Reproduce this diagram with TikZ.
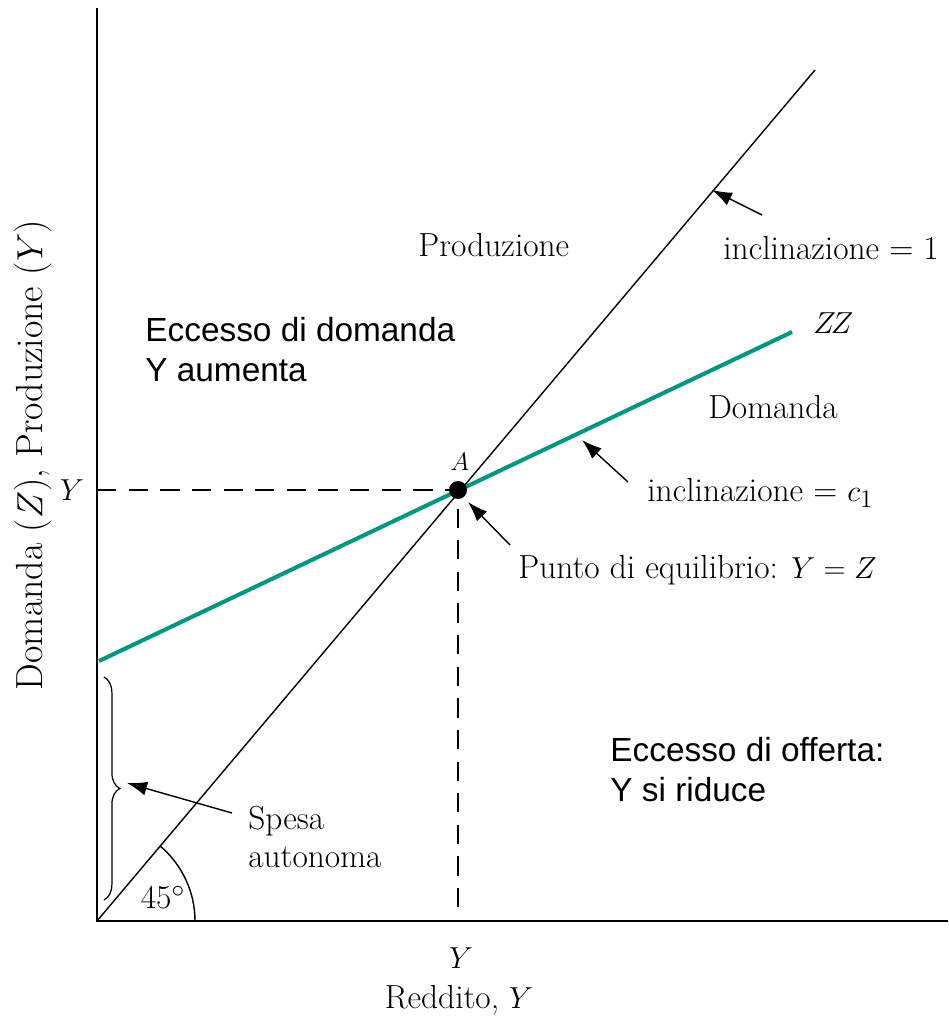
\documentclass[tikz,border=0pt]{standalone}
\usepackage{amsmath}
\usepackage{fontspec}
\newfontfamily\notefont{Liberation Sans}
\usetikzlibrary{arrows.meta,decorations.pathreplacing}
\definecolor{zzteal}{RGB}{0,150,128}
\tikzset{
    every node/.style={align=left,inner sep=0pt,},
    lbl/.style={font=\fontsize{19}{22}\selectfont,},
    note/.style={font=\notefont\fontsize{19}{22.7}\selectfont,},
    pointer/.style={-{Latex[length=4mm,width=2.8mm]},line width=0.8pt,},
    guide/.style={dash pattern=on 11pt off 7pt,line width=0.8pt,},
}

\begin{document}
\begin{tikzpicture}[x=0.02cm,y=-0.02cm]
                \useasboundingbox (0,0) rectangle (948,1030);

                \coordinate (O) at (97,921);
                \coordinate (ytop) at (97,8);
                \coordinate (xend) at (948,921);
                \coordinate (A) at (458,490);
                \coordinate (yA) at (97,490);
                \coordinate (xA) at (458,921);
                \coordinate (prodend) at (815,70);
                \coordinate (zzstart) at (99,661);
                \coordinate (zzend) at (792,332);

                % axes and lines
                \draw[guide] (yA) -- (A) -- (xA);
                \draw[line width=0.8pt] (O) -- (prodend);
                \draw[zzteal,line width=2.3pt] (zzstart) -- (zzend);
                \draw[line width=1.2pt] (ytop) -- (O) -- (xend);
                \fill (A) circle[radius=9];
                \draw[line width=0.8pt] (195,921) arc[start angle=0,end angle=-50,radius=98];
                \draw[decorate,decoration={brace,amplitude=9pt},line width=0.7pt] (104,677) -- (104,900);

                % labels
                \node[font=\fontsize{21.5}{24}\selectfont,rotate=90] (ylabel) at (33,455) {Domanda ($Z$), Produzione ($Y$)};
                \node[lbl] (yleft) at (72,490) {$Y$};
                \node[lbl] (ybottom) at (461,958) {$Y$};
                \node[lbl] (xlabel) at (459,1000) {Reddito, $Y$};
                \node[font=\fontsize{15}{17}\selectfont] (alabel) at (460,462) {$A$};
                \node[lbl,anchor=west] (prod) at (418,245) {Produzione};
                \node[lbl,anchor=west] (slope1) at (723,248) {inclinazione = 1};
                \node[lbl,anchor=west] (zz) at (813,323) {$Z\!Z$};
                \node[lbl,anchor=west] (dom) at (708,407) {Domanda};
                \node[lbl,anchor=west] (slopec) at (647,493) {inclinazione = $c_1$};
                \node[lbl,anchor=west] (eq) at (518,570) {Punto di equilibrio: $Y = Z$};
                \node[lbl,anchor=west] (spesa) at (248,837) {Spesa\\autonoma};
                \node[lbl] (angle) at (163,898) {45$^\circ$};
                \node[note,anchor=west] (excd) at (145,350) {Eccesso di domanda\\Y aumenta};
                \node[note,anchor=west] (exco) at (610,770) {Eccesso di offerta:\\Y si riduce};

                % pointers
                \coordinate (s1from) at (762,215);
                \coordinate (s1to) at (712,190);
                \coordinate (scfrom) at (628,482);
                \coordinate (scto) at (582,440);
                \coordinate (eqfrom) at (510,545);
                \coordinate (eqto) at (468,502);
                \coordinate (spfrom) at (232,813);
                \coordinate (spto) at (127,783);
                \draw[pointer] (s1from) -- (s1to);
                \draw[pointer] (scfrom) -- (scto);
                \draw[pointer] (eqfrom) -- (eqto);
                \draw[pointer] (spfrom) -- (spto);
            \end{tikzpicture}
\end{document}
